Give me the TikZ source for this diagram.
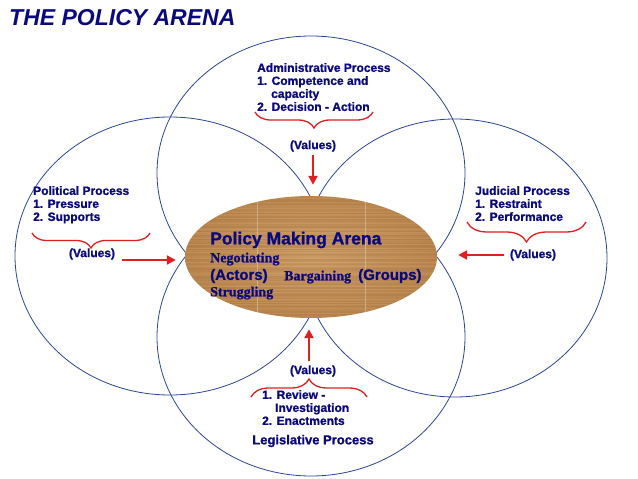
\documentclass[tikz,border=0pt]{standalone}
\usepackage{fontspec}
\setmainfont{Liberation Sans}[BoldFeatures={FakeBold=1.2}]
\newfontfamily\woodserif{Liberation Serif}[BoldFeatures={FakeBold=1}]
\usetikzlibrary{arrows.meta,decorations.pathreplacing,shapes.geometric}

\definecolor{navy}{RGB}{10,10,125}
\definecolor{ringblue}{RGB}{40,70,150}
\definecolor{valred}{RGB}{222,32,32}
\definecolor{wood}{RGB}{192,140,84}
\definecolor{woodlight}{RGB}{210,162,108}
\definecolor{woodgrain}{RGB}{135,88,42}

\tikzset{
  ring/.style={draw=ringblue, line width=0.8pt},
  arena/.style={ellipse, inner color=woodlight, outer color=wood, minimum width=252pt, minimum height=122pt, inner sep=0pt},
  proc/.style={text=navy, font=\bfseries\fontsize{12}{13}\selectfont, align=left, anchor=north west, inner sep=0pt},
  procname/.style={text=navy, font=\bfseries\fontsize{13}{15}\selectfont, inner sep=0pt},
  values/.style={text=navy, font=\bfseries\fontsize{12}{14}\selectfont, inner sep=0pt},
  arenahead/.style={text=navy, font=\bfseries\fontsize{17.5}{20}\selectfont, anchor=west, inner sep=0pt},
  arenaparty/.style={text=navy, font=\bfseries\fontsize{15}{17}\selectfont, anchor=west, inner sep=0pt},
  arenaverb/.style={text=navy, font=\woodserif\bfseries\fontsize{14}{16}\selectfont, anchor=west, inner sep=0pt},
  valbrace/.style={draw=valred, line width=1.3pt, decorate, decoration={brace, amplitude=#1}},
  push/.style={draw=valred, line width=2.2pt, -{Triangle[length=9pt, width=9pt]}},
}

\begin{document}
\begin{tikzpicture}[x=1pt, y=-1pt]
    \useasboundingbox (0,0) rectangle (638,479);

    % title
    \node[text=navy, font=\bfseries\itshape\fontsize{23}{26}\selectfont, anchor=west, inner sep=0pt] (title) at (9,18) {THE POLICY ARENA};

    % the four process rings
    \draw[ring] (311,173) ellipse [x radius=154pt, y radius=137pt];
    \draw[ring] (170,256) ellipse [x radius=155pt, y radius=139pt];
    \draw[ring] (455,258) ellipse [x radius=152pt, y radius=139pt];
    \draw[ring] (311,337) ellipse [x radius=154pt, y radius=139pt];

    % wooden arena in the middle
    \node[arena] (arena) at (311,257) {};
    \begin{scope}
        \clip (arena.center) ellipse [x radius=126pt, y radius=61pt];
        \pgfmathsetseed{11}
        \foreach \k in {0,...,100} {
            \pgfmathsetmacro\gy{195+1.25*\k+0.6*rnd}
            \pgfmathsetmacro\go{0.04+0.26*rnd}
            \pgfmathsetmacro\gw{0.3+0.9*rnd}
            \draw[woodgrain, opacity=\go, line width=\gw pt] (180,\gy) -- (445,\gy);
        }
        \draw[white, opacity=0.3, line width=0.6pt] (257,190) -- (257,325);
        \draw[white, opacity=0.3, line width=0.6pt] (365,190) -- (365,325);
    \end{scope}

    \node[arenahead] (pmArena) at (210,240) {Policy Making Arena};
    \node[arenaverb] (negot) at (210,259) {Negotiating};
    \node[arenaparty] (actors) at (210,276) {(Actors)};
    \node[arenaverb] (bargain) at (284,277) {Bargaining};
    \node[arenaparty] (groups) at (358,276) {(Groups)};
    \node[arenaverb] (strug) at (210,293) {Struggling};

    % process texts
    \node[proc] (admin) at (257,63) {Administrative Process\\1. Competence and\\\hspace*{14pt}capacity\\2. Decision - Action};
    \node[proc] (polit) at (33,186) {Political Process\\1. Pressure\\2. Supports};
    \node[proc] (judic) at (475,186) {Judicial Process\\1. Restraint\\2. Performance};
    \node[proc] (legis) at (262,390) {1. Review -\\\hspace*{13pt}Investigation\\2. Enactments};
    \node[procname] (legisName) at (313,441) {Legislative Process};

    % values
    \node[values] (valTop) at (313,146) {(Values)};
    \node[values] (valLeft) at (92,254) {(Values)};
    \node[values] (valRight) at (533,255) {(Values)};
    \node[values] (valBottom) at (313,371) {(Values)};

    % braces
    \coordinate (adminL) at (255,112);
    \coordinate (adminR) at (373,112);
    \coordinate (politL) at (32,233);
    \coordinate (politR) at (150,233);
    \coordinate (judicL) at (467,222);
    \coordinate (judicR) at (586,222);
    \coordinate (legisL) at (251,397);
    \coordinate (legisR) at (367,397);
    \draw[valbrace=16pt, decoration={mirror}] (adminL) -- (adminR);
    \draw[valbrace=15pt, decoration={mirror}] (politL) -- (politR);
    \draw[valbrace=20pt, decoration={mirror}] (judicL) -- (judicR);
    \draw[valbrace=18pt] (legisL) -- (legisR);

    % value arrows into the arena
    \coordinate (pushTop) at (313,155);
    \coordinate (pushLeft) at (122,260);
    \coordinate (pushRight) at (504,255);
    \coordinate (pushBottom) at (309,361);
    \draw[push, shorten >=11pt] (pushTop) -- (pushTop |- arena.north);
    \draw[push, shorten >=9pt] (pushLeft) -- (pushLeft -| arena.west);
    \draw[push, shorten >=21pt] (pushRight) -- (pushRight -| arena.east);
    \draw[push, shorten >=11pt] (pushBottom) -- (pushBottom |- arena.south);
\end{tikzpicture}
\end{document}
